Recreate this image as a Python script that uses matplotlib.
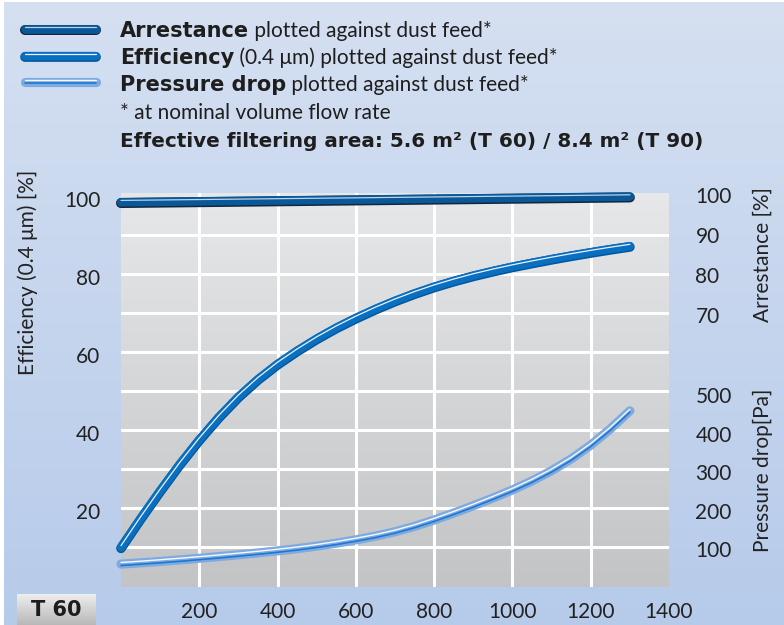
import numpy as np
import matplotlib
matplotlib.use("Agg")
import matplotlib.pyplot as plt
from matplotlib import patheffects as pe
from matplotlib.lines import Line2D
from matplotlib.transforms import ScaledTranslation

plt.rcParams['font.family'] = ['Lato', 'DejaVu Sans']

# data (x = dust feed)
eff_x = [0, 50, 100, 150, 200, 250, 300, 350, 400, 450, 500, 550, 600, 650,
         700, 750, 800, 850, 900, 950, 1000, 1050, 1100, 1150, 1200, 1250, 1300]
eff_y = [10.0, 17.4, 24.5, 31.3, 37.6, 43.4, 48.6, 53.1, 57.0, 60.4, 63.5, 66.3, 68.8, 71.1,
         73.2, 75.1, 76.8, 78.3, 79.65, 80.85, 81.95, 82.95, 83.9, 84.8, 85.65, 86.45, 87.2]

arr_x = [0, 650, 1300]
arr_y = [98.2, 98.9, 99.6]

pd_x = [0, 50, 100, 150, 200, 250, 300, 350, 400, 450, 500, 550, 600, 650,
        700, 750, 800, 850, 900, 950, 1000, 1050, 1100, 1150, 1200, 1250, 1300]
pd_y = [61, 64.4, 68.0, 71.9, 76.1, 80.5, 85.2, 90.1, 95.3, 101.1, 107.7, 115.3, 124.0, 133.5,
        145, 159, 175.5, 193.5, 212.5, 232.5, 253.5, 277, 303.5, 334, 370, 412, 459]

x_ticks = [200, 400, 600, 800, 1000, 1200, 1400]
eff_ticks = [20, 40, 60, 80, 100]
arr_ticks = [70, 80, 90, 100]
pd_ticks = [100, 200, 300, 400, 500]

W, H = 784, 625
fig = plt.figure(figsize=(W / 100, H / 100), dpi=100)
fig.patch.set_facecolor('white')

# blue background gradient
bg = fig.add_axes([4 / W, 0, 1 - 4 / W, 1 - 2 / H], zorder=-5)
grad = np.linspace(0, 1, 256)[:, None]
top_c = np.array([0.835, 0.878, 0.945])
bot_c = np.array([0.715, 0.795, 0.918])
bg.imshow(top_c + grad[..., None] * (bot_c - top_c), aspect='auto', extent=[0, 1, 0, 1])
bg.axis('off')

# plot area
L, R, T, B = 121, 669, 193, 586.5
ax = fig.add_axes([L / W, 1 - B / H, (R - L) / W, (B - T) / H])
ax.set_xlim(0, 1400)
ax.set_ylim(0, 100.8)
ptop = np.array([0.905, 0.908, 0.915])
pbot = np.array([0.765, 0.768, 0.775])
ax.imshow(ptop + grad[..., None] * (pbot - ptop), aspect='auto',
          extent=[0, 1400, 0, 100.8], zorder=0)
for s in ax.spines.values():
    s.set_visible(False)

for gx in range(200, 1400, 200):
    ax.axvline(gx, color='white', lw=2.2, zorder=1)
for gy in range(10, 100, 10):
    ax.axhline(gy, color='white', lw=2.2, zorder=1)

tick_col = '#222222'
ax.set_xticks(x_ticks)
ax.set_xticklabels([str(v) for v in x_ticks])
ax.set_yticks(eff_ticks)
ax.set_yticklabels([str(v) for v in eff_ticks])
ax.tick_params(axis='x', length=0, pad=11, labelsize=15, labelcolor=tick_col)
ax.tick_params(axis='y', length=0, pad=15, labelsize=15, labelcolor=tick_col)

ax_arr = ax.twinx()
ax_arr.set_ylim(2.15, 100.5)
ax_arr.set_yticks(arr_ticks)
ax_arr.set_yticklabels([str(v) for v in arr_ticks])

ax_pd = ax.twinx()
ax_pd.set_ylim(2.9, 1024.7)
ax_pd.set_yticks(pd_ticks)
ax_pd.set_yticklabels([str(v) for v in pd_ticks])

for a in (ax_arr, ax_pd):
    a.tick_params(axis='y', length=0, pad=19, labelsize=15, labelcolor=tick_col)
    for s in a.spines.values():
        s.set_visible(False)

down = ScaledTranslation(0, -3 / 100, fig.dpi_scale_trans)
for lab in ax.get_yticklabels():
    lab.set_transform(lab.get_transform() + down)


def styled(dark, base, light, lw):
    return [pe.Stroke(linewidth=lw + 1.0, foreground=dark, offset=(0, -0.6)),
            pe.Stroke(linewidth=lw, foreground=base),
            pe.Stroke(linewidth=0.9, foreground=light, offset=(0, 1.3))]


arr_fx = styled('#13263d', '#0b5898', '#b9d2ee', 6.2)
eff_fx = styled('#0057a0', '#0a6fbf', '#e8f2ff', 6.0)
pd_fx = [pe.Stroke(linewidth=6.6, foreground='#7eaae0'),
         pe.Stroke(linewidth=1.2, foreground='#1f78d0', offset=(0, -1.0)),
         pe.Stroke(linewidth=1.0, foreground='#f4f8ff', offset=(0, 1.2))]

line_kw = dict(solid_capstyle='round', solid_joinstyle='round', lw=6, clip_on=False, zorder=3)
ax.plot(eff_x, eff_y, path_effects=eff_fx, **line_kw)
ax_pd.plot(pd_x, pd_y, path_effects=pd_fx, **line_kw)
ax_arr.plot(arr_x, arr_y, path_effects=arr_fx, **line_kw)

# axis titles
fig.text(28 / W, 1 - 272 / H, 'Efficiency (0.4 \u03bcm) [%]', rotation=90,
         ha='center', va='center', fontsize=15, color=tick_col)
fig.text(763 / W, 1 - 255 / H, 'Arrestance [%]', rotation=90,
         ha='center', va='center', fontsize=15, color=tick_col)
fig.text(763 / W, 1 - 470 / H, 'Pressure drop[Pa]', rotation=90,
         ha='center', va='center', fontsize=15, color=tick_col)

# T 60 box
tb = fig.add_axes([17 / W, 0, 79 / W, 31 / H])
g2 = np.linspace(0, 1, 64)[:, None]
tb.imshow(0.93 + g2 * (0.72 - 0.93), cmap='gray', vmin=0, vmax=1,
          aspect='auto', extent=[0, 1, 0, 1])
tb.axis('off')
tb.text(0.5, 0.47, 'T 60', ha='center', va='center', fontsize=15,
        fontweight='bold', family='DejaVu Sans', color='#1c1c1c', transform=tb.transAxes)

# header legend
renderer = fig.canvas.get_renderer()
BOLD = ['DejaVu Sans']


def rich_line(x0, base_y, parts, size=15, width=None):
    x = x0
    texts = []
    for txt, weight in parts:
        fam = BOLD if weight == 'bold' else ['Lato', 'DejaVu Sans']
        t = fig.text(x / W, 1 - base_y / H, txt, fontsize=size, fontweight=weight,
                     family=fam, color='#1e1e1e', va='baseline', ha='left')
        texts.append(t)
        x += t.get_window_extent(renderer).width
    if width is not None:
        f = width / (x - x0)
        for t in texts:
            t.set_fontsize(size * f)


rows = [
    (37, [('Arrestance', 'bold'), (' plotted against dust feed*', 'normal')], arr_fx, 29),
    (64, [('Efficiency', 'bold'), (' (0.4 \u03bcm) plotted against dust feed*', 'normal')], eff_fx, 56),
    (91, [('Pressure drop', 'bold'), (' plotted against dust feed*', 'normal')], pd_fx, 82),
]
for base_y, parts, fx, sy in rows:
    rich_line(120, base_y, parts)
    ln = Line2D([25 / W, 96 / W], [1 - sy / H, 1 - sy / H], transform=fig.transFigure,
                lw=6, solid_capstyle='round', path_effects=fx)
    fig.add_artist(ln)

rich_line(120, 119, [('* at nominal volume flow rate', 'normal')])
rich_line(120, 147, [('Effective filtering area: 5.6 m\u00b2 (T 60) / 8.4 m\u00b2 (T 90)', 'bold')],
          width=583)

fig.savefig('out.png', dpi=100)
